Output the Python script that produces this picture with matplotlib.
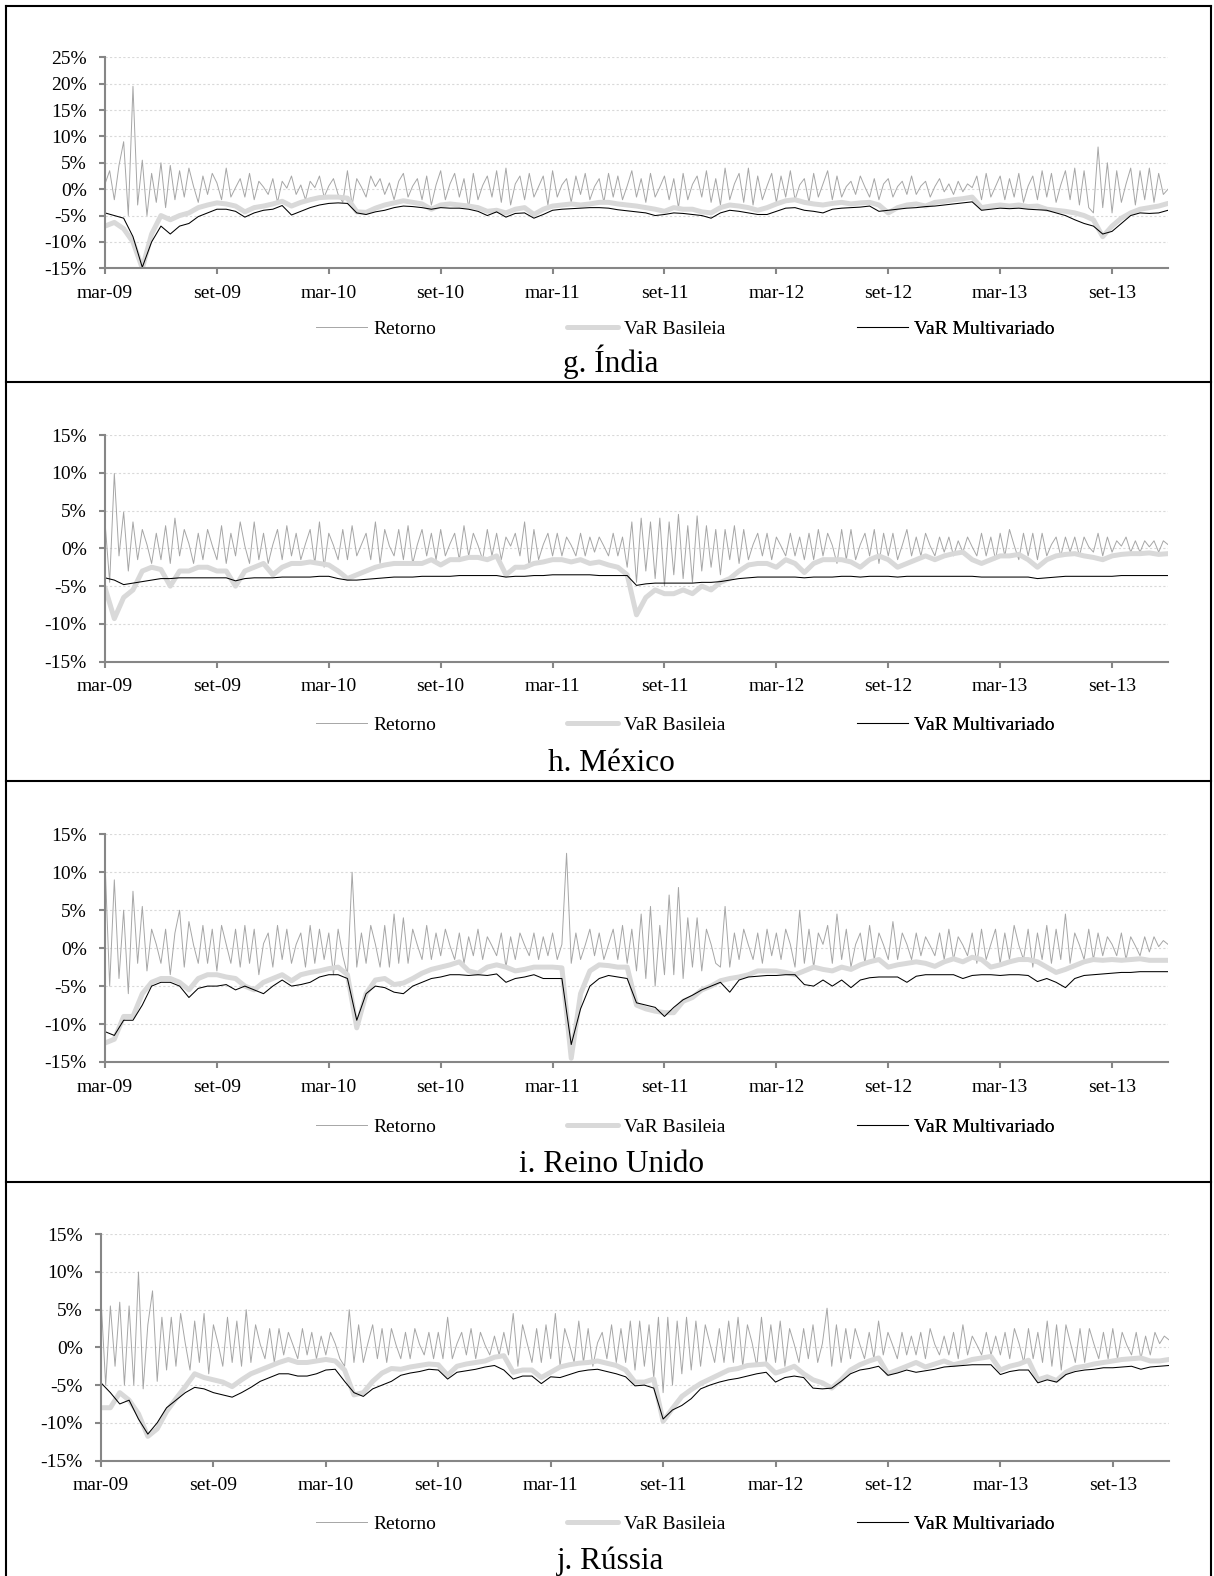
import numpy as np
import matplotlib.pyplot as plt
from matplotlib.lines import Line2D
from matplotlib.ticker import FuncFormatter

plt.rcParams["font.family"] = ["Liberation Serif", "DejaVu Serif"]

W, H = 1214, 1576

tick_pos = [0, 6, 12, 18, 24, 30, 36, 42, 48, 54]
tick_labels = ["mar-09", "set-09", "mar-10", "set-10", "mar-11",
               "set-11", "mar-12", "set-12", "mar-13", "set-13"]
series_names = ["Retorno", "VaR Basileia", "VaR Multivariado"]
titles = ["g. Índia", "h. México", "i. Reino Unido", "j. Rússia"]

# returns in %, ~4 readings per month, mar-09 .. dez-13
india_ret = [
    1.0, 3.5, -2.0, 4.5, 9.0, -5.0, 19.5, -3.0,
    5.5, -5.0, 3.0, -2.5, 5.0, -3.5, 4.5, -2.0,
    3.5, -1.5, 4.0, 0.5, -2.5, 2.5, -1.0, 3.0,
    1.2, -2.0, 4.0, -1.5, 0.3, 2.0, -1.5, 3.0,
    -2.0, 1.5, 0.4, -1.0, 2.0, -2.5, 1.5, 0.2,
    2.5, -1.0, 0.8, -2.0, 1.5, 0.3, 2.5, -1.5,
    0.6, 2.0, -1.0, -2.5, 3.5, -3.0, 2.0, 0.4,
    -1.5, 2.5, 0.5, 2.0, -1.0, 1.2, -2.0, 1.5,
    3.0, -1.5, 0.6, 2.0, -2.0, 2.5, -3.0, 0.8,
    3.5, -2.0, 1.0, 3.0, -1.5, 2.0, -3.5, 3.0,
    -2.0, 0.7, 2.5, -1.5, 3.5, -2.5, 4.0, -3.0,
    1.0, 2.5, -2.0, 3.0, -1.5, 0.5, 2.5, -3.0,
    3.5, -1.5, 0.8, 2.0, -2.5, 2.5, -1.0, 3.0,
    -2.0, 0.5, 2.0, -2.5, 3.0, -1.5, 2.5, -2.0,
    0.6, 3.5, -1.5, 2.0, -2.5, 3.0, -1.5, 0.4,
    2.5, -2.0, 2.0, -3.5, 3.0, -2.0, 0.9, 2.5,
    -1.5, 3.5, -2.5, 2.0, -3.0, 4.0, -2.0, 1.0,
    3.0, -2.5, 4.0, -3.0, 2.5, -2.0, 0.6, 3.0,
    -2.5, 2.5, -1.5, 3.5, -2.0, 0.8, 2.0, -2.5,
    3.0, -1.5, 1.0, 3.5, -2.0, 2.5, -1.5, 0.5,
    1.5, -1.0, 2.5, 0.4, -1.5, 2.0, -2.0, 1.0,
    2.0, -1.5, 0.5, 1.5, -1.0, 2.5, -1.0, 0.6,
    1.5, -1.5, 0.5, 2.0, -0.5, 1.0, -1.0, 1.5,
    -0.5, 1.0, 0.3, 2.5, -2.0, 3.0, -1.5, 0.5,
    2.5, -2.0, 2.0, -1.5, 3.0, -2.5, 0.6, 2.5,
    -2.0, 3.5, -1.5, 3.0, -2.5, 0.8, 3.5, -2.0,
    4.0, -3.0, 3.5, -3.5, -4.5, 8.0, -3.5, 5.0,
    -4.5, 3.5, -2.5, 1.0, 4.0, -3.0, 3.5, -2.0,
    4.0, -2.5, 3.0, -1.0, 0.0]

mexico_ret = [
    3.5, -4.5, 9.9, -1.0, 4.8, -3.0, 3.5, -1.5,
    2.5, 0.5, -2.0, 2.0, -1.5, 3.0, -2.0, 4.0,
    -1.0, 2.5, 0.6, -2.0, 2.0, -1.5, 2.5, 0.4,
    -1.5, 3.0, -2.0, 2.0, -1.0, 3.5, 0.3, -2.0,
    3.5, -1.5, 2.0, -2.0, 0.5, 2.5, -1.5, 3.0,
    -1.0, 2.0, -1.5, 0.6, 2.5, -2.0, 3.5, -2.5,
    2.0, 0.4, -1.5, 2.5, -1.5, 3.0, -1.0, 0.5,
    2.0, -1.5, 3.5, -2.0, 2.5, 0.3, -1.0, 2.5,
    -1.5, 3.0, -2.0, 0.5, 2.5, -1.0, 2.0, -1.5,
    2.5, -1.0, 0.6, 2.0, -1.5, 3.0, -1.0, 2.0,
    0.4, -1.5, 2.5, -1.0, 2.0, -1.5, 1.5, 0.3,
    2.0, -1.0, 3.5, -2.5, 2.5, -1.5, 0.5, 2.0,
    -1.0, 2.0, -1.0, 1.5, 0.4, -1.0, 2.0, -1.0,
    1.5, -0.5, 1.5, 0.3, -1.0, 2.0, -1.0, 1.5,
    -2.5, 3.5, -4.5, 4.0, -3.0, 3.5, -4.0, 4.0,
    -5.0, 3.5, -3.5, 4.5, -4.0, 3.0, -4.5, 4.3,
    -3.0, 3.0, -2.5, 2.5, -3.5, 2.5, -1.5, 3.0,
    -2.0, 2.5, -1.5, 0.5, 2.0, -1.0, 2.0, -1.5,
    1.5, 0.3, -1.0, 2.0, -1.0, 1.5, -1.5, 2.0,
    -1.5, 2.5, -1.0, 2.0, 0.4, -2.0, 2.5, -1.5,
    2.5, -1.5, 0.5, 2.0, -1.0, 2.5, -2.0, 2.0,
    -1.0, 2.0, -1.5, 0.4, 2.5, -1.0, 1.5, -1.0,
    2.0, 0.3, -1.0, 1.5, -0.5, 1.5, -1.0, 1.0,
    -0.5, 1.5, 0.2, -1.0, 2.0, -1.0, 1.5, -1.5,
    2.0, -1.0, 2.5, 0.4, -1.5, 2.0, -1.0, 2.0,
    -1.5, 2.0, -1.0, 0.5, 1.5, -1.0, 1.5, -0.5,
    1.5, -1.0, 1.5, 0.2, -0.5, 2.0, -1.0, 1.5,
    -0.5, 1.0, 0.3, 1.5, -0.5, 1.0, -0.5, 1.0,
    0.2, 1.0, -0.5, 1.0, 0.5]

uk_ret = [
    11.5, -5.0, 9.0, -4.0, 5.0, -6.0, 7.5, -2.0,
    5.5, -3.0, 2.5, 0.5, -2.0, 2.5, -3.5, 2.0,
    5.0, -2.5, 3.5, 0.4, -2.0, 3.0, -2.0, 2.5,
    -3.0, 3.0, 0.5, -2.0, 2.5, -2.5, 3.0, -2.0,
    2.5, -3.5, 0.6, 2.0, -2.5, 3.0, -1.5, 2.5,
    -2.0, 0.5, 2.0, -2.5, 3.0, -2.0, 2.5, -1.5,
    2.0, -3.5, 2.5, -1.0, -3.5, 10.0, -2.5, 2.0,
    -2.0, 3.0, 0.5, -2.5, 3.0, -2.5, 4.5, -2.0,
    4.0, -2.0, 2.5, 0.4, -1.5, 3.0, -1.5, 2.0,
    -1.0, 2.5, 0.3, -1.5, 2.0, -2.0, 1.5, -1.0,
    2.5, -1.5, 1.5, 0.3, -1.0, 2.0, -2.5, 1.5,
    -1.5, 2.0, 0.4, -1.0, 2.0, -1.5, 1.5, -1.0,
    2.0, -1.5, 0.5, 12.5, -2.0, 2.0, -1.5, 0.4,
    2.5, -1.0, 2.0, -1.5, 0.5, 2.5, -1.5, 3.0,
    -2.0, 2.5, -3.0, 4.5, -4.0, 5.5, -5.0, 3.0,
    -3.5, 7.0, -3.5, 8.0, -4.0, 4.0, -2.5, 4.0,
    -3.0, 2.5, 0.5, -2.0, -2.5, 5.5, -2.5, 2.0,
    -1.5, 2.5, 0.4, -1.5, 2.0, -2.0, 2.5, -1.0,
    2.0, -1.5, 2.5, 0.5, -2.5, 5.0, -2.0, 2.5,
    -2.5, 2.0, 0.5, 3.0, -2.0, 4.5, -1.5, 2.5,
    -2.5, 0.5, 2.0, -2.0, 3.0, -1.5, 2.0, 0.4,
    -1.5, 3.5, -1.5, 2.0, 0.5, -1.5, 2.0, -1.0,
    1.5, 0.3, -1.0, 2.0, -1.5, 2.5, -1.5, 1.5,
    0.4, -1.0, 2.0, -2.0, 2.5, -1.5, 0.5, 2.5,
    -2.0, 2.0, -1.5, 3.0, 0.4, -1.5, 2.5, -2.5,
    2.0, -1.5, 3.0, -2.0, 2.5, -1.5, 4.5, -2.0,
    2.0, 0.4, -1.5, 2.5, -1.5, 2.0, -1.0, 1.5,
    0.5, -1.0, 2.0, -1.5, 1.5, 0.3, -1.0, 1.5,
    -0.5, 1.5, 0.2, 1.0, 0.5]

russia_ret = [
    6.5, -5.0, 5.5, -2.5, 6.0, -5.0, 5.5, -5.0,
    10.0, -5.5, 3.0, 7.5, -4.5, 4.0, -3.0, 4.0,
    -2.5, 4.5, 0.5, -3.0, 3.5, -2.0, 4.5, -3.5,
    3.0, 0.5, -2.5, 4.0, -2.0, 3.5, -2.5, 5.0,
    -2.0, 3.0, 0.4, -1.5, 2.5, -2.0, 2.5, -1.0,
    2.0, 0.3, -1.5, 2.5, -1.0, 2.0, -1.5, 1.5,
    -1.0, 2.0, 0.5, -1.5, -2.5, 5.0, -2.0, 3.0,
    -2.0, 0.6, 3.0, -1.5, 2.5, -2.0, 2.5, 0.3,
    -1.5, 2.0, -1.5, 2.5, 0.4, -1.0, 2.0, -1.5,
    2.0, -1.5, 4.0, -1.5, 0.5, 2.0, -1.0, 2.5,
    -1.5, 2.0, 0.3, -1.0, 1.5, -1.0, 2.0, -1.0,
    4.5, -2.5, 3.0, 0.5, -2.0, 2.5, -2.0, 3.0,
    -1.5, 4.5, -2.5, 2.5, 0.4, -2.0, 3.5, -2.0,
    2.5, -2.5, 0.6, 2.0, -1.5, 3.0, -2.0, 2.5,
    -2.0, 3.5, -3.0, 3.5, -2.5, 3.0, -4.0, 4.0,
    -6.0, 4.0, -5.0, 3.5, -3.5, 4.0, -3.0, 3.5,
    -2.5, 3.0, 0.5, -2.0, 2.5, -2.0, 3.5, -2.0,
    4.0, -2.5, 3.0, 0.6, -2.5, 4.0, -2.0, 3.0,
    -2.0, 3.5, -2.5, 2.5, 0.4, -2.0, 2.5, -1.5,
    3.0, -2.0, 0.5, 5.2, -2.5, 3.0, -2.0, 2.5,
    -1.5, 2.5, 0.4, -1.5, 2.0, -1.5, 3.5, -1.0,
    2.0, 0.3, -1.5, 2.0, -1.0, 1.5, -1.0, 2.0,
    -1.5, 2.5, 0.4, -1.0, 1.5, -1.0, 2.0, -1.5,
    3.0, -1.0, 1.5, 0.3, -1.0, 2.0, -1.0, 1.5,
    -1.0, 2.0, -1.5, 2.5, 0.5, -2.0, 2.5, -1.5,
    2.0, -2.0, 3.5, -2.5, 3.0, -3.0, 3.0, 0.5,
    -2.0, 2.5, -2.0, 2.5, 0.4, -1.5, 2.0, -1.5,
    2.5, -1.5, 2.0, 0.3, -1.0, 2.0, -1.5, 1.5,
    -1.0, 2.0, 0.5, 1.5, 1.0]

# VaR in %, two readings per month
india_bas = [
    -7.0, -6.3, -7.5, -10.0, -15.0, -8.5, -5.0, -5.8, -5.0, -4.5,
    -3.5, -3.0, -2.6, -2.8, -3.2, -4.3, -3.5, -3.2, -2.8, -2.3,
    -3.2, -2.5, -2.0, -1.6, -1.5, -1.5, -1.7, -4.3, -4.4, -3.6,
    -3.0, -2.6, -2.2, -2.5, -2.8, -3.8, -3.0, -2.8, -3.0, -3.2,
    -3.5, -4.2, -4.0, -4.5, -3.8, -3.5, -4.8, -3.8, -3.2, -3.0,
    -2.8, -3.0, -2.8, -2.5, -2.5, -2.8, -3.0, -3.2, -3.5, -3.8,
    -4.2, -3.5, -3.8, -3.8, -4.3, -4.5, -3.5, -3.0, -3.2, -3.5,
    -4.0, -3.5, -2.8, -2.2, -2.0, -2.5, -2.8, -3.0, -2.7, -2.5,
    -2.8, -2.6, -2.5, -3.0, -4.5, -3.5, -3.0, -2.8, -3.2, -2.5,
    -2.3, -2.0, -1.8, -1.5, -3.5, -3.2, -3.0, -3.2, -3.0, -3.3,
    -3.2, -3.8, -4.0, -4.2, -4.5, -5.0, -5.8, -9.0, -7.0, -5.5,
    -4.5, -3.8, -3.5, -3.2, -2.7]
india_mul = [
    -4.5, -5.0, -5.5, -9.0, -14.8, -10.0, -7.0, -8.5, -7.0, -6.5,
    -5.2, -4.5, -3.8, -3.8, -4.2, -5.3, -4.5, -4.0, -3.8, -3.1,
    -4.9, -4.2, -3.5, -3.0, -2.7, -2.6, -2.7, -4.5, -4.8, -4.3,
    -4.0, -3.5, -3.2, -3.3, -3.5, -3.8, -3.5, -3.6, -3.6, -3.8,
    -4.2, -5.0, -4.3, -5.3, -4.6, -4.5, -5.5, -4.8, -4.0, -3.8,
    -3.7, -3.6, -3.5, -3.5, -3.6, -3.9, -4.1, -4.3, -4.5, -5.0,
    -4.8, -4.5, -4.6, -4.8, -5.0, -5.5, -4.5, -4.0, -4.2, -4.5,
    -4.8, -4.8, -4.2, -3.6, -3.5, -4.0, -4.2, -4.5, -3.8, -3.6,
    -3.5, -3.4, -3.2, -4.2, -4.0, -3.8, -3.6, -3.5, -3.3, -3.2,
    -3.0, -2.8, -2.6, -2.4, -4.0, -3.8, -3.6, -3.7, -3.6, -3.8,
    -3.9, -4.0, -4.5, -5.0, -5.8, -6.5, -7.0, -8.5, -8.0, -6.5,
    -5.0, -4.5, -4.6, -4.5, -4.0]

mexico_bas = [
    -5.2, -9.3, -6.5, -5.5, -3.0, -2.5, -2.8, -5.0, -3.0, -3.0,
    -2.5, -2.5, -3.0, -3.0, -5.0, -3.0, -2.5, -2.0, -3.5, -2.5,
    -2.0, -2.0, -1.8, -2.0, -2.2, -3.0, -4.0, -3.5, -3.0, -2.5,
    -2.2, -2.0, -2.0, -2.0, -2.0, -1.5, -2.2, -1.5, -1.5, -1.2,
    -1.2, -1.5, -1.0, -3.5, -2.5, -2.5, -2.0, -1.8, -1.5, -1.5,
    -1.8, -1.5, -2.0, -1.8, -2.2, -2.5, -3.5, -8.8, -6.5, -5.5,
    -6.0, -6.0, -5.5, -6.0, -5.0, -5.5, -4.5, -4.0, -3.0, -2.2,
    -2.0, -2.0, -2.5, -1.5, -2.0, -3.2, -2.0, -1.5, -1.5, -1.5,
    -1.8, -2.5, -1.5, -1.0, -1.5, -2.5, -2.0, -1.5, -1.0, -1.5,
    -1.0, -0.7, -0.5, -1.5, -2.0, -1.5, -1.0, -1.0, -0.8, -1.5,
    -2.5, -1.5, -1.0, -0.8, -0.7, -1.0, -1.2, -1.5, -1.0, -0.8,
    -0.7, -0.7, -0.6, -0.8, -0.7]
mexico_mul = [
    -3.9, -4.2, -4.8, -4.6, -4.4, -4.2, -4.0, -4.0, -3.9, -3.9,
    -3.9, -3.9, -3.9, -3.9, -4.3, -4.0, -3.9, -3.9, -3.9, -3.8,
    -3.8, -3.8, -3.8, -3.7, -3.7, -4.0, -4.2, -4.2, -4.1, -4.0,
    -3.9, -3.8, -3.8, -3.8, -3.7, -3.7, -3.7, -3.7, -3.6, -3.6,
    -3.6, -3.6, -3.6, -3.8, -3.7, -3.7, -3.6, -3.6, -3.5, -3.5,
    -3.5, -3.5, -3.5, -3.6, -3.6, -3.6, -3.6, -4.9, -4.7, -4.6,
    -4.6, -4.6, -4.6, -4.6, -4.5, -4.5, -4.4, -4.2, -4.0, -3.9,
    -3.8, -3.8, -3.8, -3.8, -3.8, -3.9, -3.8, -3.8, -3.8, -3.7,
    -3.7, -3.8, -3.7, -3.7, -3.7, -3.8, -3.7, -3.7, -3.7, -3.7,
    -3.7, -3.7, -3.7, -3.7, -3.8, -3.8, -3.8, -3.8, -3.8, -3.8,
    -4.0, -3.9, -3.8, -3.7, -3.7, -3.7, -3.7, -3.7, -3.7, -3.6,
    -3.6, -3.6, -3.6, -3.6, -3.6]

uk_bas = [
    -12.5, -12.0, -9.0, -9.0, -6.0, -4.5, -4.0, -4.0, -4.5, -5.5,
    -4.0, -3.5, -3.5, -3.8, -4.0, -5.0, -5.5, -4.5, -4.0, -3.5,
    -4.3, -3.5, -3.2, -3.0, -2.7, -2.5, -3.5, -10.5, -6.0, -4.2,
    -4.0, -4.8, -4.6, -4.0, -3.3, -2.8, -2.5, -2.2, -1.8, -3.0,
    -3.3, -2.5, -2.2, -2.5, -3.0, -2.8, -2.5, -2.5, -2.5, -2.6,
    -14.5, -6.0, -3.0, -2.2, -2.3, -2.5, -2.5, -7.5, -8.0, -8.3,
    -8.5, -8.5, -7.0, -6.5, -5.5, -5.0, -4.3, -4.0, -3.8, -3.5,
    -3.0, -3.0, -3.0, -3.2, -3.5, -3.0, -2.5, -2.8, -3.0, -2.5,
    -2.8, -2.2, -1.8, -1.5, -2.5, -2.2, -2.0, -1.8, -2.0, -2.4,
    -1.8, -1.4, -1.8, -1.2, -1.5, -2.5, -2.2, -1.8, -1.5, -1.5,
    -1.8, -2.5, -3.2, -2.8, -2.3, -1.8, -1.5, -1.6, -1.5, -1.6,
    -1.5, -1.4, -1.6, -1.6, -1.6]
uk_mul = [
    -11.0, -11.5, -9.5, -9.5, -7.5, -5.0, -4.5, -4.5, -5.0, -6.5,
    -5.3, -5.0, -5.0, -4.8, -5.5, -5.0, -5.5, -6.0, -5.0, -4.2,
    -5.0, -4.8, -4.5, -3.8, -3.5, -3.5, -4.0, -9.5, -6.0, -5.0,
    -5.2, -5.8, -6.0, -5.0, -4.5, -4.0, -3.8, -3.5, -3.5, -3.6,
    -3.5, -3.6, -3.4, -4.5, -4.0, -3.8, -3.5, -4.0, -4.0, -4.0,
    -12.7, -8.0, -5.0, -4.0, -3.6, -3.8, -4.0, -7.2, -7.5, -7.8,
    -9.0, -7.8, -6.8, -6.2, -5.5, -5.0, -4.5, -5.8, -4.2, -3.8,
    -3.7, -3.6, -3.6, -3.5, -3.5, -4.8, -5.0, -4.2, -5.0, -4.2,
    -5.2, -4.2, -3.9, -3.8, -3.8, -3.8, -4.5, -3.7, -3.5, -3.5,
    -3.5, -3.5, -4.0, -3.6, -3.5, -3.5, -3.6, -3.5, -3.5, -3.6,
    -4.4, -4.0, -4.5, -5.2, -4.0, -3.6, -3.5, -3.4, -3.3, -3.2,
    -3.2, -3.1, -3.1, -3.1, -3.1]

russia_bas = [
    -8.0, -8.0, -6.0, -7.0, -8.8, -11.8, -10.8, -8.5, -6.8, -5.2,
    -3.5, -4.0, -4.3, -4.6, -5.2, -4.3, -3.5, -3.0, -2.5, -2.0,
    -1.6, -2.0, -2.0, -1.8, -1.6, -1.8, -3.0, -6.3, -6.0, -4.5,
    -3.4, -2.8, -2.9, -2.6, -2.4, -2.2, -2.3, -3.7, -2.5, -2.2,
    -2.0, -1.8, -1.3, -1.1, -3.3, -3.0, -3.0, -4.0, -3.3, -2.6,
    -2.3, -2.1, -2.0, -1.8, -2.1, -2.4, -3.0, -4.6, -4.6, -4.2,
    -9.8, -8.1, -6.5, -5.6, -4.8, -4.2, -3.6, -3.0, -2.8, -2.4,
    -2.3, -2.2, -3.4, -3.0, -2.5, -3.5, -4.3, -4.7, -5.4, -4.3,
    -3.0, -2.3, -1.8, -1.4, -3.5, -3.0, -2.5, -2.0, -2.6, -2.2,
    -1.8, -2.3, -2.0, -1.6, -1.4, -1.2, -3.0, -2.5, -2.2, -1.7,
    -4.3, -3.9, -4.4, -3.3, -2.7, -2.5, -2.2, -2.0, -1.8, -1.6,
    -1.5, -1.4, -1.8, -1.8, -1.6]
russia_mul = [
    -4.7, -6.0, -7.5, -7.0, -9.5, -11.5, -10.0, -8.0, -7.0, -6.0,
    -5.3, -5.5, -6.0, -6.3, -6.6, -6.0, -5.3, -4.5, -4.0, -3.5,
    -3.5, -3.8, -3.8, -3.5, -3.0, -2.9, -4.5, -6.0, -6.5, -5.5,
    -5.0, -4.5, -3.7, -3.4, -3.2, -2.9, -3.0, -4.2, -3.3, -3.1,
    -2.9, -2.6, -2.4, -3.0, -4.2, -3.8, -3.8, -4.8, -3.9, -4.0,
    -3.6, -3.2, -3.0, -2.9, -3.2, -3.5, -3.9, -5.1, -5.0, -5.4,
    -9.5, -8.3, -7.7, -6.8, -5.5, -5.0, -4.6, -4.3, -4.1, -3.8,
    -3.5, -3.3, -4.6, -4.0, -3.8, -4.0, -5.4, -5.5, -5.4, -4.5,
    -3.5, -3.0, -2.8, -2.5, -3.7, -3.4, -3.0, -3.3, -3.1, -2.9,
    -2.6, -2.5, -2.4, -2.3, -2.3, -2.3, -3.6, -3.2, -3.0, -3.0,
    -4.7, -4.3, -4.6, -3.6, -3.2, -3.0, -2.9, -2.7, -2.7, -2.6,
    -2.5, -2.9, -2.6, -2.5, -2.4]

# page layout, pixels: plot box (left, top, right, bottom), legend row, title baseline
panels = [
    (india_ret, india_bas, india_mul, 25, (105, 57.3, 1168, 268.3), 329, 372),
    (mexico_ret, mexico_bas, mexico_mul, 15, (105, 435, 1168, 661.7), 725, 771),
    (uk_ret, uk_bas, uk_mul, 15, (105, 834.3, 1168, 1062), 1126.7, 1172),
    (russia_ret, russia_bas, russia_mul, 15, (101, 1234.3, 1169, 1460.5), 1524.3, 1569),
]
frame_rows = [6, 382, 781, 1182]

ret_style = dict(color="#a6a6a6", lw=0.7)
bas_style = dict(color="#d9d9d9", lw=3.6, solid_joinstyle="round", solid_capstyle="round")
mul_style = dict(color="black", lw=0.75)
axis_gray = "#868686"

fig = plt.figure(figsize=(W / 100, H / 100), dpi=100, facecolor="white")

for (ret, bas, mul, ymax, box, leg_y, title_y), title in zip(panels, titles):
    l, t, r, b = box
    ax = fig.add_axes([l / W, 1 - b / H, (r - l) / W, (b - t) / H])
    x_ret = np.linspace(0, 57, len(ret))
    x_var = np.linspace(0, 57, len(bas))
    h1, = ax.plot(x_ret, ret, **ret_style)
    h2, = ax.plot(x_var, bas, **bas_style)
    h3, = ax.plot(x_var, mul, **mul_style)

    ax.set_xlim(0, 57)
    ax.set_ylim(-15, ymax)
    ax.set_yticks(np.arange(-15, ymax + 1, 5))
    ax.yaxis.set_major_formatter(FuncFormatter(lambda v, p: f"{v:.0f}%"))
    ax.set_xticks(tick_pos)
    ax.set_xticklabels(tick_labels)
    ax.yaxis.grid(True, color="#d9d9d9", linestyle=(0, (2, 2)), lw=0.8)
    ax.set_axisbelow(True)
    for s in ["top", "right"]:
        ax.spines[s].set_visible(False)
    for s in ["left", "bottom"]:
        ax.spines[s].set_color(axis_gray)
        ax.spines[s].set_linewidth(1.5)
    ax.tick_params(direction="out", length=4, width=1.5, color=axis_gray,
                   labelsize=14, labelcolor="black")
    ax.tick_params(axis="x", pad=8)
    ax.tick_params(axis="y", pad=9)

    # one legend per entry so each handle sits where it does on the page
    for handle, name, hx in zip([h1, h2, h3], series_names, [316, 566.7, 857]):
        leg = ax.legend([handle], [name], loc="center left",
                        bbox_to_anchor=(hx / W, 1 - leg_y / H),
                        bbox_transform=fig.transFigure, frameon=False,
                        borderpad=0, borderaxespad=0, handlelength=2.63,
                        handletextpad=0.3, fontsize=14)
        ax.add_artist(leg)

    fig.text(611 / W, 1 - title_y / H, title, ha="center", va="baseline",
             fontsize=22.5, family=["Liberation Serif", "DejaVu Serif"])

# table frame around the four panels
for y in frame_rows:
    fig.add_artist(Line2D([6 / W, 1211 / W], [1 - y / H, 1 - y / H],
                          transform=fig.transFigure, color="black", lw=1.5))
for x in [6, 1211]:
    fig.add_artist(Line2D([x / W, x / W], [0, 1 - 6 / H],
                          transform=fig.transFigure, color="black", lw=1.5))

fig.savefig("out.png", dpi=100, facecolor="white")
